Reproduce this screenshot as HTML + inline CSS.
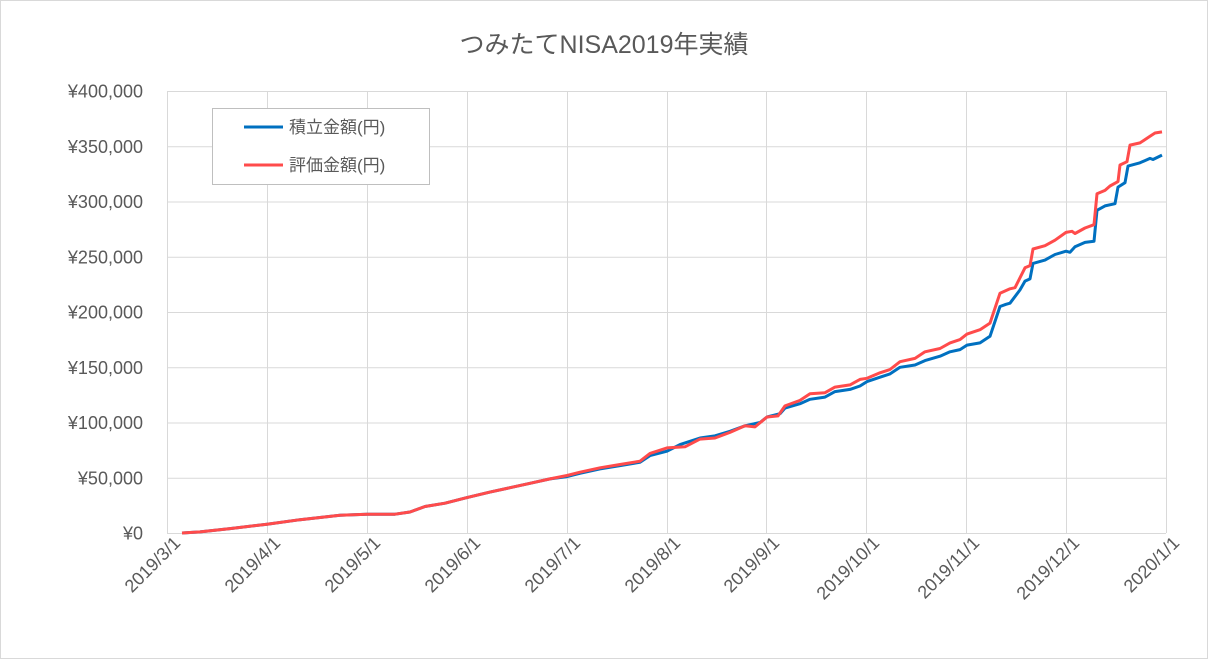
<!DOCTYPE html>
<html><head><meta charset="utf-8"><style>
html,body{margin:0;padding:0;background:#fff}
svg{display:block;font-family:"Liberation Sans","Noto Sans CJK JP",sans-serif}
</style></head><body>
<svg id="c" width="1208" height="659" viewBox="0 0 1208 659" xmlns="http://www.w3.org/2000/svg">
<rect x="0.5" y="0.5" width="1207" height="658" fill="#fff" stroke="#d9d9d9"/>
<text x="604" y="53" text-anchor="middle" font-size="25" fill="#595959">つみたてNISA2019年実績</text>
<g id="grid" stroke="#d9d9d9" stroke-width="1"></g>
<g id="lbl" fill="#595959" font-size="18"></g>
<polyline id="b" fill="none" stroke="#0070c0" stroke-width="3" stroke-linejoin="round"/>
<polyline id="r" fill="none" stroke="#ff4b4b" stroke-width="3" stroke-linejoin="round"/>
<rect x="212.5" y="108.5" width="217" height="76" fill="#fff" stroke="#bfbfbf"/>
<line x1="244" y1="127" x2="283" y2="127" stroke="#0070c0" stroke-width="3"/>
<text x="289" y="133" font-size="17" fill="#595959">積立金額(円)</text>
<line x1="244" y1="165" x2="283" y2="165" stroke="#ff4b4b" stroke-width="3"/>
<text x="289" y="171" font-size="17" fill="#595959">評価金額(円)</text>
</svg>
<script>
var NS="http://www.w3.org/2000/svg",g=document.getElementById('grid'),L=document.getElementById('lbl');
function el(p,t,a,txt){var e=document.createElementNS(NS,t);for(var k in a)e.setAttribute(k,a[k]);if(txt)e.textContent=txt;p.appendChild(e);return e;}
function Y(k){return 533-k*442/400;}
for(var i=0;i<=8;i++){var y=Y(i*50)+0.5;el(g,'line',{x1:167,x2:1166,y1:y,y2:y});
 var s=i==0?'¥0':'¥'+(i*50)+',000';el(L,'text',{x:143,y:y+6,'text-anchor':'end'},s);}
var months=['2019/3/1','2019/4/1','2019/5/1','2019/6/1','2019/7/1','2019/8/1','2019/9/1','2019/10/1','2019/11/1','2019/12/1','2020/1/1'];
for(var i=0;i<=10;i++){var x=Math.round(167+i*99.9)+0.5;el(g,'line',{x1:x,x2:x,y1:91,y2:533});
 var tx=x+14,ty=544;
 el(L,'text',{x:tx,y:ty,'text-anchor':'end',transform:'rotate(-45 '+tx+' '+ty+')'},months[i]);}
var blue=[182,0,200,1,230,4,267,8,300,12,340,16,367,17,395,17,410,19,425,24,445,27,467,32,490,37,510,41,530,45,550,49,567,51,580,54,600,58,620,61,640,64,650,70,667,74,680,80,700,86,715,88,730,92,745,97,760,100,767,105,780,108,785,113,800,117,810,121,825,123,835,128,850,130,860,133,867,137,880,141,890,144,900,150,915,152,925,156,940,160,950,164,960,166,967,170,980,172,990,178,1000,205,1006,207,1010,208,1020,220,1025,228,1030,230,1033,244,1045,247,1055,252,1066,255,1070,254,1075,259,1085,263,1094,264,1097,292,1105,296,1115,298,1118,313,1125,317,1128,332,1140,335,1150,339,1153,338,1162,342];
var red=[182,0,200,1,230,4,267,8,300,12,340,16,367,17,395,17,410,19,425,24,445,27,467,32,490,37,510,41,530,45,550,49,567,52,580,55,600,59,620,62,640,65,650,72,667,77,685,78,700,85,715,86,730,91,745,97,755,96,767,105,778,106,785,115,800,120,810,126,825,127,835,132,850,134,860,139,867,140,880,145,890,148,900,155,915,158,925,164,940,167,950,172,960,175,967,180,980,184,990,190,1000,217,1010,221,1015,222,1025,240,1030,242,1033,257,1045,260,1055,265,1066,272,1072,273,1075,271,1085,276,1094,279,1097,307,1105,310,1110,314,1118,318,1120,333,1127,336,1130,351,1140,353,1150,359,1155,362,1162,363];
function pts(a){var s=[];for(var i=0;i<a.length;i+=2)s.push(a[i]+','+Y(a[i+1]).toFixed(1));return s.join(' ');}
document.getElementById('b').setAttribute('points',pts(blue));
document.getElementById('r').setAttribute('points',pts(red));
</script>
</body></html>
